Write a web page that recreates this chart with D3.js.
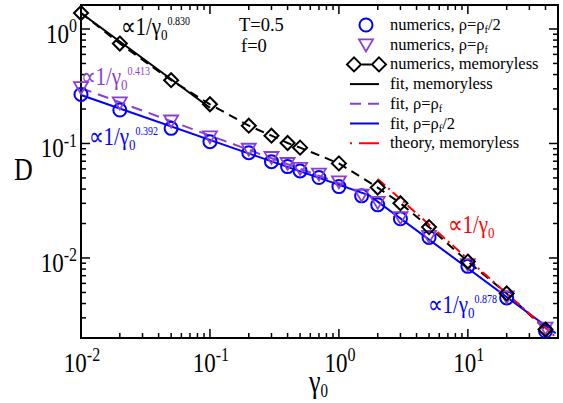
<!DOCTYPE html>
<html>
<head>
<meta charset="utf-8">
<script src="https://cdn.jsdelivr.net/npm/d3@7"></script>
<style>
  body { margin: 0; background: #fff; }
</style>
</head>
<body>
<div class="canvas"></div>
<script>
// gamma_0 values of the simulations
const gammaMem = [0.01, 0.02, 0.05, 0.1, 0.2, 0.3, 0.4, 0.5, 1, 2, 3, 5, 10, 20, 40]
const dMem = [1.38, 0.746, 0.357, 0.22, 0.143, 0.117, 0.101, 0.092, 0.067, 0.0412, 0.0301, 0.0186, 0.0093, 0.0049, 0.00237]

const gammaRho = [0.01, 0.02, 0.05, 0.1, 0.2, 0.3, 0.4, 0.5, 0.7, 1, 1.5, 2, 3, 5, 10, 20, 40]
const dHalf = [0.268, 0.196, 0.1355, 0.1037, 0.0831, 0.0694, 0.0628, 0.0576, 0.0504, 0.042, 0.0349, 0.0291, 0.022, 0.0151, 0.00845, 0.00448, 0.0023]
const dFull = [0.309, 0.227, 0.158, 0.1147, 0.0895, 0.0758, 0.0672, 0.0608, 0.0542, 0.0465, 0.0356, 0.0307, 0.0226, 0.0155, 0.0088, 0.0046, 0.00245]

// fit / theory lines (end points)
const fitMemX = [0.01, 0.1]
const fitMemY = [1.38, 0.205]
const fitFullX = [0.01, 1.2]
const fitFullY = [0.305, 0.0418]
const fitHalfX = [0.01, 1.72, 48]
const fitHalfY = [0.265, 0.0352, 0.0022]
const theoryX = [2, 48]
const theoryY = [0.049, 0.00204]

const xMajor = [0.01, 0.1, 1, 10]
const xLabels = ['-2', '-1', '0', '1']
const yMajor = [0.01, 0.1, 1]
const yLabels = ['-2', '-1', '0']

const legendItems = [
    { text: [['numerics, ρ=ρ'], ['f', 'sub'], ['/2']], kind: 'circle' },
    { text: [['numerics, ρ=ρ'], ['f', 'sub']], kind: 'triangle' },
    { text: [['numerics, memoryless']], kind: 'diamonds' },
    { text: [['fit, memoryless']], kind: 'black' },
    { text: [['fit, ρ=ρ'], ['f', 'sub']], kind: 'purple' },
    { text: [['fit, ρ=ρ'], ['f', 'sub'], ['/2']], kind: 'blue' },
    { text: [['theory, memoryless']], kind: 'red' }
]

const BLUE = '#0000ff'
const PURPLE = '#8b3fd1'
const RED = '#ff0000'
const FONT = '"Liberation Serif", "Times New Roman", "Tinos"'

const svg = d3.select('.canvas')
    .append('svg')
    .attr('width', 563)
    .attr('height', 403)
    .style('font-family', FONT)

const x = d3.scaleLog().domain([0.01, 50]).range([81, 558])
const y = d3.scaleLog().domain([0.002, 1.62]).range([338, 5])

// text with sub/superscripts, optionally stretched vertically like the original
const richText = (x0, y0, size, parts, color, anchor, stretch = 1.2) => {
    const t = svg.append('text')
        .attr('transform', `translate(${x0},${y0}) scale(1,${stretch})`)
        .style('font-family', FONT)
        .attr('font-size', size)
        .attr('fill', color || '#000')
        .attr('text-anchor', anchor || 'start')
    let rise = 0
    parts.forEach(p => {
        const [s, kind, fs, r] = p
        let target = 0, sz = size
        if (kind === 'sup') { target = r || size * 0.4; sz = fs || size * 0.65 }
        if (kind === 'sub') { target = r || -size * 0.22; sz = fs || size * 0.65 }
        t.append('tspan')
            .attr('dy', rise - target)
            .attr('font-size', sz)
            .text(s)
        rise = target
    })
    return t
}

// ticks (inward on all four sides)
const minorX = []
const minorY = []
for (let e = -3; e <= 1; e++) {
    for (let m = 2; m <= 9; m++) {
        const v = m * Math.pow(10, e)
        if (v > 0.01 && v < 50) minorX.push(v)
        if (v > 0.002 && v < 1.62) minorY.push(v)
    }
}

const tickLayer = svg.append('g').attr('stroke', '#000').attr('stroke-width', 1.5)
const drawTicks = (vals, len) => {
    vals.forEach(v => {
        tickLayer.append('line').attr('x1', x(v)).attr('x2', x(v)).attr('y1', 338).attr('y2', 338 - len)
        tickLayer.append('line').attr('x1', x(v)).attr('x2', x(v)).attr('y1', 5).attr('y2', 5 + len)
    })
}
const drawTicksY = (vals, len) => {
    vals.forEach(v => {
        tickLayer.append('line').attr('y1', y(v)).attr('y2', y(v)).attr('x1', 81).attr('x2', 81 + len)
        tickLayer.append('line').attr('y1', y(v)).attr('y2', y(v)).attr('x1', 558).attr('x2', 558 - len)
    })
}
drawTicks(minorX, 5)
drawTicks(xMajor, 9)
drawTicksY(minorY, 5)
drawTicksY(yMajor, 9)

svg.append('rect')
    .attr('x', 81).attr('y', 5)
    .attr('width', 558 - 81).attr('height', 338 - 5)
    .attr('fill', 'none')
    .attr('stroke', '#000')
    .attr('stroke-width', 2)

// tick labels
xMajor.forEach((v, i) => {
    richText(x(v) + 1, 372, 23, [['10'], [xLabels[i], 'sup', 16, 9]], '#000', 'middle')
})
yMajor.forEach((v, i) => {
    richText(77, y(v) + 14, 23, [['10'], [yLabels[i], 'sup', 16, 9]], '#000', 'end')
})

// axis titles
richText(14, 180, 26, [['D']])
richText(309, 392, 26, [['γ'], ['0', 'sub', 15, -4]])

const line = d3.line()
    .x(d => x(d[0]))
    .y(d => y(d[1]))

const zip = (a, b) => a.map((v, i) => [v, b[i]])

const plot = svg.append('g')

// numerics memoryless (dashed) and fits
plot.append('path')
    .attr('d', line(zip(gammaMem, dMem)))
    .attr('fill', 'none').attr('stroke', '#000').attr('stroke-width', 2)
    .attr('stroke-dasharray', '9,6')

plot.append('path')
    .attr('d', line(zip(fitMemX, fitMemY)))
    .attr('fill', 'none').attr('stroke', '#000').attr('stroke-width', 2)

plot.append('path')
    .attr('d', line(zip(fitFullX, fitFullY)))
    .attr('fill', 'none').attr('stroke', PURPLE).attr('stroke-width', 2)
    .attr('stroke-dasharray', '11,7')

plot.append('path')
    .attr('d', line(zip(fitHalfX, fitHalfY)))
    .attr('fill', 'none').attr('stroke', BLUE).attr('stroke-width', 2)

plot.append('path')
    .attr('d', line(zip(theoryX, theoryY)))
    .attr('fill', 'none').attr('stroke', RED).attr('stroke-width', 2)
    .attr('stroke-dasharray', '10,4,2,4')

const diamond = (s) => `M0,${-s}L${s},0L0,${s}L${-s},0Z`
const triangle = (s) => `M${-s},${-s * 0.75}L${s},${-s * 0.75}L0,${s * 0.95}Z`

// markers
plot.selectAll('.circ')
    .data(zip(gammaRho, dHalf))
    .enter().append('circle')
    .attr('cx', d => x(d[0])).attr('cy', d => y(d[1]))
    .attr('r', 6.5)
    .attr('fill', 'none').attr('stroke', BLUE).attr('stroke-width', 2)

plot.selectAll('.tri')
    .data(zip(gammaRho, dFull))
    .enter().append('path')
    .attr('d', triangle(7))
    .attr('transform', d => `translate(${x(d[0])},${y(d[1])})`)
    .attr('fill', 'none').attr('stroke', PURPLE).attr('stroke-width', 1.8)

plot.selectAll('.dia')
    .data(zip(gammaMem, dMem))
    .enter().append('path')
    .attr('d', diamond(7))
    .attr('transform', d => `translate(${x(d[0])},${y(d[1])})`)
    .attr('fill', 'none').attr('stroke', '#000').attr('stroke-width', 2)

// annotations
richText(121, 35, 21, [['∝1/γ'], ['0', 'sub', 13, -4], ['0.830', 'sup', 10, 8]])
richText(81, 85, 21, [['∝1/γ'], ['0', 'sub', 13, -4], ['0.413', 'sup', 10, 8]], PURPLE)
richText(89, 145, 21, [['∝1/γ'], ['0', 'sub', 13, -4], ['0.392', 'sup', 10, 8]], BLUE)
richText(448, 233, 21, [['∝1/γ'], ['0', 'sub', 13, -4]], RED)
richText(428, 313, 21, [['∝1/γ'], ['0', 'sub', 13, -4], ['0.878', 'sup', 10, 8]], BLUE)

richText(239, 31, 18.5, [['T=0.5']], '#000', 'start', 1.05)
richText(241, 52, 18.5, [['f=0']], '#000', 'start', 1.05)

// legend
const legend = svg.append('g')
legendItems.forEach((item, i) => {
    const ly = 25 + i * 19.7
    const g = legend.append('g').attr('transform', `translate(0,${ly})`)
    if (item.kind === 'circle') {
        g.append('circle').attr('cx', 366).attr('cy', 0).attr('r', 6.5)
            .attr('fill', 'none').attr('stroke', BLUE).attr('stroke-width', 2)
    } else if (item.kind === 'triangle') {
        g.append('path').attr('d', triangle(7)).attr('transform', 'translate(366,0)')
            .attr('fill', 'none').attr('stroke', PURPLE).attr('stroke-width', 1.8)
    } else if (item.kind === 'diamonds') {
        g.append('line').attr('x1', 354).attr('x2', 379).attr('y1', 0).attr('y2', 0)
            .attr('stroke', '#000').attr('stroke-width', 2).attr('stroke-dasharray', '0,8,9,20')
        ;[354, 379].forEach(cx => {
            g.append('path').attr('d', diamond(7)).attr('transform', `translate(${cx},0)`)
                .attr('fill', 'none').attr('stroke', '#000').attr('stroke-width', 2)
        })
    } else {
        const styles = {
            black: ['#000', null],
            purple: [PURPLE, '11,7'],
            blue: [BLUE, null],
            red: [RED, '2,7,20,10']
        }
        const [c, dash] = styles[item.kind]
        g.append('line').attr('x1', 350).attr('x2', 379).attr('y1', 0).attr('y2', 0)
            .attr('stroke', c).attr('stroke-width', 2)
            .attr('stroke-dasharray', dash)
    }
    richText(390, ly + 5, 16.5, item.text.map(p => p[1] === 'sub' ? [p[0], 'sub', 10.5, -3] : p), '#000', 'start', 1.0)
})
</script>
</body>
</html>
